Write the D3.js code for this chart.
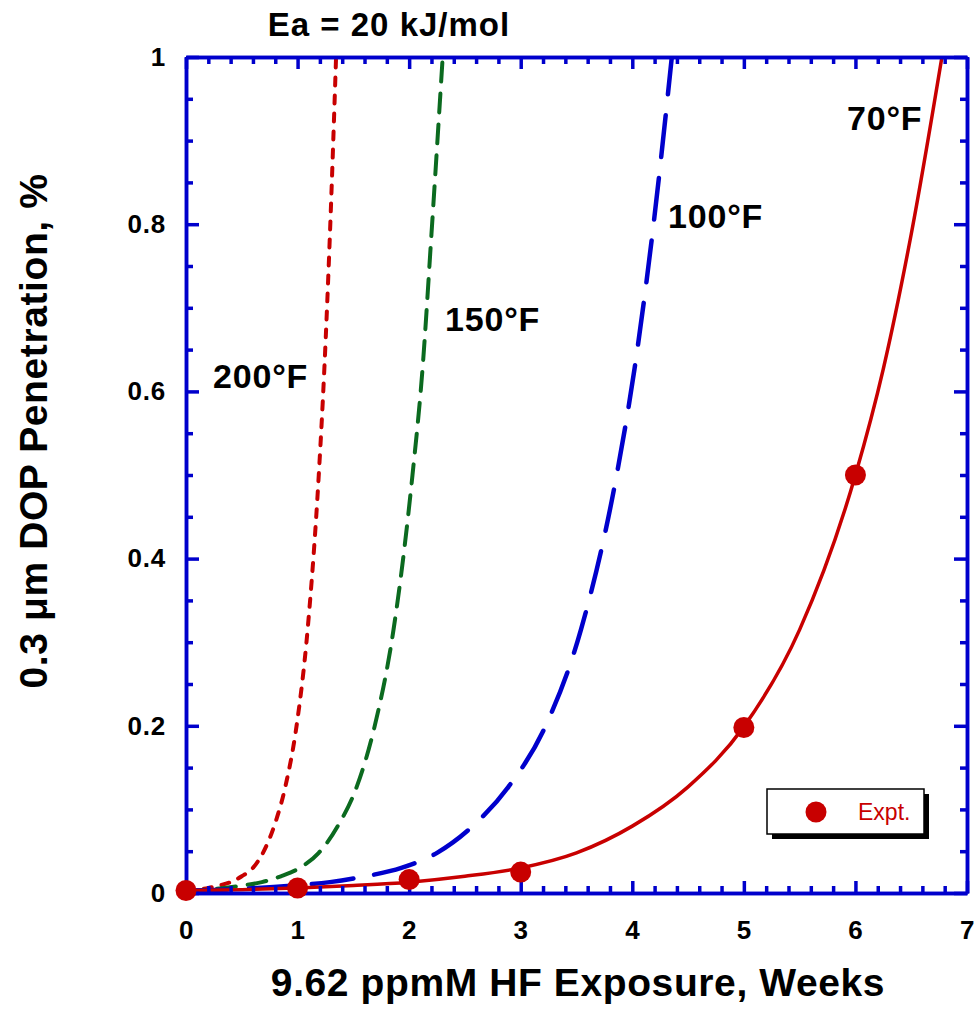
<!DOCTYPE html>
<html><head><meta charset="utf-8">
<script src="https://cdn.jsdelivr.net/npm/d3@7"></script>
<style>body{margin:0;background:#fff}svg{display:block}</style>
</head><body>
<svg id="c" width="974" height="1010"></svg>
<script>
// ---- data ----
const xTicks = [0,1,2,3,4,5,6,7];
const yTicks = [0,0.2,0.4,0.6,0.8,1];
const yTickLabels = ["0","0.2","0.4","0.6","0.8","1"];
const curveY  = [0.003,0.004,0.006,0.009,0.013,0.020,0.030,0.048,0.080,0.127,0.199,0.315,0.5,0.627,0.788,1.02];
const c70x  = [0,0.5,1,1.5,2,2.5,3,3.5,4,4.5,5,5.5,6,6.25,6.5,6.8];
const c100x = [0,0.32,0.64,0.96,1.29,1.61,1.93,2.25,2.57,2.89,3.22,3.54,3.86,4.02,4.18,4.37];
const c150x = [0,0.17,0.34,0.51,0.68,0.85,1.02,1.19,1.36,1.53,1.69,1.86,2.03,2.12,2.20,2.31];
const c200x = [0,0.10,0.20,0.30,0.40,0.50,0.60,0.69,0.79,0.89,0.99,1.09,1.19,1.24,1.29,1.35];
const exptX = [0,1,2,3,5,6];
const exptY = [0.003,0.006,0.016,0.025,0.198,0.5];
const curveLabels = ["200°F","150°F","100°F","70°F"];

// ---- layout ----
const L=186,R=967,T=57,B=893;
const svg=d3.select("#c");
const x=d3.scaleLinear().domain([0,7]).range([L,R]);
const y=d3.scaleLinear().domain([0,1]).range([B,T]);
const BLUE="#0000cc", RED="#c80000", GREEN="#0b6a1f";
const font="Arial, 'Liberation Sans', Helvetica, sans-serif";

svg.append("defs").append("clipPath").attr("id","clip")
  .append("rect").attr("x",L).attr("y",T).attr("width",R-L).attr("height",B-T);

const line=d3.line().x(d=>x(d[0])).y(d=>y(d[1])).curve(d3.curveMonotoneX);
const series=[
  {xs:c200x,color:RED,dash:"8,10",w:4},
  {xs:c150x,color:GREEN,dash:"19,12",w:4},
  {xs:c100x,color:BLUE,dash:"42,21",w:4.5},
  {xs:c70x,color:RED,dash:null,w:3.5}
];
const g=svg.append("g").attr("clip-path","url(#clip)");
series.forEach(s=>{
  g.append("path").datum(s.xs.map((v,i)=>[v,curveY[i]]))
    .attr("d",line).attr("fill","none").attr("stroke",s.color)
    .attr("stroke-width",s.w).attr("stroke-dasharray",s.dash)
    .attr("stroke-linecap","round");
});

// ---- axes ----
function styleAxis(sel){
  sel.select(".domain").attr("stroke",BLUE).attr("stroke-width",3.5);
  sel.selectAll(".tick line").attr("stroke",BLUE).attr("stroke-width",3.5);
  sel.selectAll("text").attr("font-family",font).attr("font-weight","bold")
     .attr("font-size",26).attr("fill","#000").attr("letter-spacing","0.8px");
}
const xMinor=d3.range(0,35).map(i=>i/5).filter(v=>Math.abs(v-Math.round(v))>1e-6);
const yMinor=d3.range(0,21).map(i=>i/20).filter(v=>Math.abs(v*5-Math.round(v*5))>1e-6);

// minor ticks
svg.append("g").attr("transform",`translate(0,${B})`).call(d3.axisBottom(x).tickValues(xMinor).tickSize(-7).tickSizeOuter(0).tickFormat("")).call(styleAxis);
svg.append("g").attr("transform",`translate(0,${T})`).call(d3.axisTop(x).tickValues(xMinor).tickSize(-7).tickSizeOuter(0).tickFormat("")).call(styleAxis);
svg.append("g").attr("transform",`translate(${L},0)`).call(d3.axisLeft(y).tickValues(yMinor).tickSize(-7).tickSizeOuter(0).tickFormat("")).call(styleAxis);
svg.append("g").attr("transform",`translate(${R},0)`).call(d3.axisRight(y).tickValues(yMinor).tickSize(-7).tickSizeOuter(0).tickFormat("")).call(styleAxis);
// major ticks
svg.append("g").attr("transform",`translate(0,${B})`).call(d3.axisBottom(x).tickValues(xTicks).tickSize(-12).tickSizeOuter(0).tickPadding(28).tickFormat(d3.format("d"))).call(styleAxis);
svg.append("g").attr("transform",`translate(0,${T})`).call(d3.axisTop(x).tickValues(xTicks).tickSize(-12).tickSizeOuter(0).tickFormat("")).call(styleAxis);
svg.append("g").attr("transform",`translate(${L},0)`).call(d3.axisLeft(y).tickValues(yTicks).tickSize(-13).tickSizeOuter(0).tickPadding(20).tickFormat((d,i)=>yTickLabels[i])).call(styleAxis);
svg.append("g").attr("transform",`translate(${R},0)`).call(d3.axisRight(y).tickValues(yTicks).tickSize(-13).tickSizeOuter(0).tickFormat("")).call(styleAxis);

// ---- markers ----
svg.append("g").selectAll("circle").data(exptX.map((v,i)=>[v,exptY[i]])).join("circle")
  .attr("cx",d=>x(d[0])).attr("cy",d=>y(d[1])).attr("r",10.5).attr("fill",RED);

// ---- curve labels ----
const labPos=[[213,388],[445,331],[668,228],[847,130]];
curveLabels.forEach((t,i)=>{
  svg.append("text").attr("x",labPos[i][0]).attr("y",labPos[i][1]).text(t)
    .attr("font-family",font).attr("font-weight","bold").attr("font-size",34)
    .attr("letter-spacing","0.8px").attr("fill","#000");
});

// ---- titles ----
svg.append("text").attr("x",389).attr("y",36).attr("text-anchor","middle").text("Ea = 20 kJ/mol")
  .attr("font-family",font).attr("font-weight","bold").attr("font-size",33).attr("letter-spacing","1px");
svg.append("text").attr("x",578).attr("y",996).attr("text-anchor","middle").text("9.62 ppmM HF Exposure, Weeks")
  .attr("font-family",font).attr("font-weight","bold").attr("font-size",39).attr("letter-spacing","0.6px");
svg.append("text").attr("transform","translate(47,431) rotate(-90)").attr("text-anchor","middle")
  .text("0.3 μm DOP Penetration, %")
  .attr("font-family",font).attr("font-weight","bold").attr("font-size",39).attr("letter-spacing","0.6px");

// ---- legend ----
const lg=svg.append("g");
lg.append("rect").attr("x",772).attr("y",834).attr("width",157).attr("height",5).attr("fill","#000");
lg.append("rect").attr("x",924).attr("y",794).attr("width",5).attr("height",45).attr("fill","#000");
lg.append("rect").attr("x",767).attr("y",789).attr("width",157).attr("height",45).attr("fill","#fff").attr("stroke","#000").attr("stroke-width",1.5);
lg.append("circle").attr("cx",816).attr("cy",812).attr("r",10.5).attr("fill",RED);
lg.append("text").attr("x",858).attr("y",820).text("Expt.").attr("font-family",font).attr("font-size",23).attr("fill",RED);
</script>
</body></html>
